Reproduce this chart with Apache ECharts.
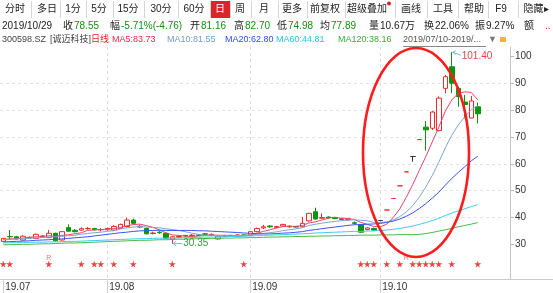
<!DOCTYPE html>
<html><head><meta charset="utf-8">
<script src="https://cdn.jsdelivr.net/npm/echarts@6/dist/echarts.min.js"></script>
<style>html,body{margin:0;padding:0;background:#fff;}#c{width:553px;height:293px;}</style>
</head><body><div id="c"></div>
<script>
// ---------------- data ----------------
const dates = ['2019-07-10','2019-07-11','2019-07-12','2019-07-15','2019-07-16','2019-07-17','2019-07-18','2019-07-19','2019-07-22','2019-07-23','2019-07-24','2019-07-25','2019-07-26','2019-07-29','2019-07-30','2019-07-31',
'2019-08-01','2019-08-02','2019-08-05','2019-08-06','2019-08-07','2019-08-08','2019-08-09','2019-08-12','2019-08-13','2019-08-14','2019-08-15','2019-08-16','2019-08-19','2019-08-20','2019-08-21','2019-08-22','2019-08-23','2019-08-26','2019-08-27','2019-08-28','2019-08-29','2019-08-30',
'2019-09-02','2019-09-03','2019-09-04','2019-09-05','2019-09-06','2019-09-09','2019-09-10','2019-09-11','2019-09-12','2019-09-16','2019-09-17','2019-09-18','2019-09-19','2019-09-20','2019-09-23','2019-09-24','2019-09-25','2019-09-26','2019-09-27','2019-09-30',
'2019-10-08','2019-10-09','2019-10-10','2019-10-11','2019-10-14','2019-10-15','2019-10-16','2019-10-17','2019-10-18','2019-10-21','2019-10-22','2019-10-23','2019-10-24','2019-10-25','2019-10-28','2019-10-29'];
const opens = [31.2,33.0,32.9,31.7,32.5,32.3,33.2,32.6,34.2,31.7,36.3,35.3,35.4,35.9,36.0,35.5,35.5,35.4,36.0,36.7,39.1,36.5,36.0,34.1,34.6,34.2,32.1,32.7,33.4,33.3,33.6,34.0,33.5,32.1,33.1,33.4,33.2,33.6,33.4,34.8,36.2,36.9,36.4,36.9,36.8,36.7,36.6,38.8,42.2,39.8,40.2,40.0,39.3,39.2,38.1,37.3,35.6,36.0,38.94,42.83,47.11,51.82,57.00,62.70,68.97,73.6,73.2,72.3,88.0,96.0,88.0,82.9,77.0,81.16];
const closes = [32.3,32.9,32.1,33.1,32.7,33.8,32.8,34.2,31.4,34.8,35.0,34.8,35.9,36.0,35.5,35.6,36.0,36.7,37.5,39.1,37.9,36.8,34.0,34.3,34.4,32.4,32.9,33.0,33.2,33.5,33.4,33.8,33.8,32.9,33.3,33.2,33.6,33.4,34.8,36.0,36.6,36.6,36.7,37.5,36.6,36.5,37.9,41.6,39.5,40.0,40.0,39.7,39.6,39.4,37.9,34.6,36.2,35.4,38.94,42.83,47.11,51.82,57.00,62.70,68.97,72.6,79.2,84.36,92.3,89.9,84.9,81.99,83.31,78.55];
const lows = [31.0,31.7,31.9,31.5,32.3,32.1,32.6,32.4,31.2,31.5,34.8,34.5,35.1,35.5,35.3,34.9,35.2,35.0,35.8,36.4,37.5,36.2,33.8,33.8,34.0,32.2,30.35,32.4,32.9,33.0,33.2,33.6,33.3,31.9,32.8,33.0,33.0,33.1,33.2,34.6,35.8,36.2,36.1,36.7,36.3,36.3,36.4,38.5,39.3,39.6,39.6,39.4,39.1,38.9,37.4,34.4,35.3,35.0,38.7,42.83,47.11,51.82,57.00,60.8,68.97,64.9,72.5,72.0,86.2,86.2,81.2,76.9,76.9,74.98];
const highs = [32.5,35.4,33.2,33.5,33.0,34.1,33.5,35.4,34.4,35.0,37.5,35.8,36.4,36.5,36.2,36.1,36.3,37.2,37.8,40.0,39.6,37.4,36.3,34.8,35.0,34.4,33.1,33.4,33.6,33.9,33.9,34.3,34.1,33.1,33.6,33.7,33.8,33.8,35.0,36.3,37.3,37.2,36.9,37.7,37.1,36.9,40.3,41.8,43.7,41.6,40.5,40.3,40.0,39.7,38.6,37.6,36.5,36.3,38.94,42.83,47.11,51.82,57.00,62.70,68.97,75.87,79.6,85.0,93.0,101.40,88.6,85.5,85.2,82.70];
const ma5 = [31.9,32.1,32.2,32.4,32.62,32.92,32.9,33.32,32.98,33.4,33.64,34.04,34.38,35.3,35.44,35.56,35.8,35.96,36.26,36.98,37.44,37.6,37.06,36.42,35.48,34.38,33.6,33.4,33.18,33.0,33.2,33.38,33.54,33.48,33.44,33.4,33.36,33.28,33.66,34.2,34.88,35.48,36.14,36.68,36.8,36.78,37.04,38.02,38.42,39.1,39.8,40.16,39.76,39.74,39.32,38.24,37.54,36.7,36.61,37.59,40.1,43.22,47.54,52.29,57.52,62.62,68.09,73.57,79.49,83.67,86.13,86.69,86.48,83.73];
const ma10 = [31.8,31.9,32.1,32.2,32.3,32.5,32.6,32.8,32.9,33.01,33.28,33.47,33.85,34.14,34.42,34.6,34.92,35.17,35.78,36.21,36.5,36.7,36.51,36.34,36.23,35.91,35.6,35.23,34.8,34.24,33.79,33.49,33.47,33.33,33.22,33.3,33.37,33.41,33.57,33.82,34.14,34.42,34.71,35.17,35.5,35.83,36.26,37.08,37.55,37.95,38.29,38.6,38.89,39.08,39.21,39.02,38.85,38.23,38.18,38.46,39.17,40.38,42.12,44.45,47.56,51.36,55.66,60.56,65.89,70.6,74.38,77.39,80.03,81.55];
const ma20 = [31.0,31.1,31.2,31.3,31.4,31.6,31.7,31.8,32.0,32.1,32.3,32.5,32.7,32.9,33.2,33.5,33.8,34.1,34.4,34.61,34.89,35.09,35.18,35.24,35.33,35.26,35.26,35.2,35.29,35.23,35.15,35.1,34.99,34.84,34.73,34.61,34.49,34.32,34.19,34.03,33.97,33.96,34.09,34.25,34.36,34.57,34.82,35.25,35.56,35.89,36.22,36.51,36.8,37.13,37.36,37.43,37.56,37.66,37.87,38.21,38.73,39.49,40.51,41.77,43.39,45.19,47.26,49.4,52.04,54.53,56.78,58.89,61.08,62.80];
const ma60 = [30.6,30.7,30.7,30.8,30.8,30.9,30.9,31.0,31.0,31.1,31.2,31.2,31.3,31.4,31.5,31.6,31.7,31.8,31.9,32.0,32.1,32.2,32.2,32.3,32.4,32.4,32.5,32.5,32.6,32.6,32.7,32.8,32.8,32.9,32.9,33.0,33.0,33.1,33.2,33.3,33.4,33.5,33.6,33.7,33.8,33.9,34.0,34.1,34.3,34.4,34.5,34.6,34.7,34.8,34.9,34.9,35.0,35.1,35.24,35.43,35.68,35.99,36.41,36.90,37.50,38.15,38.92,39.76,40.77,41.69,42.52,43.31,44.10,44.81];
const ma120 = [29.9,30.0,30.0,30.1,30.1,30.2,30.3,30.3,30.4,30.5,30.6,30.6,30.7,30.8,30.9,31.0,31.1,31.2,31.3,31.4,31.5,31.6,31.6,31.7,31.8,31.8,31.9,32.0,32.0,32.1,32.2,32.2,32.3,32.3,32.4,32.4,32.5,32.5,32.6,32.6,32.7,32.8,32.8,32.9,32.9,33.0,33.0,33.1,33.1,33.2,33.2,33.3,33.3,33.4,33.4,33.5,33.5,33.5,33.6,33.6,33.6,33.7,33.7,33.7,33.8,34.1,34.5,35.0,35.5,36.0,36.6,37.1,37.6,38.16];
const starIdx = [0,1,7,12,14,15,17,20,26,37,55,56,57,59,61,63,64,65,66,67,69,73];
const rIdx = [7,62];
const xTickIdx = [0,16,38,58];
const xTickLabels = ['19.07','19.08','19.09','19.10'];
const monthLineIdx = [16,38,58];
const yTicks = [30,40,50,60,70,80,90,100];
const maxMark = {idx:69, value:101.40, text:'101.40'};
const minMark = {idx:26, value:30.35, text:'30.35'};
const padSlots = 4;

// ---------------- style ----------------
const FONT = "'Liberation Sans','Noto Sans CJK SC',sans-serif";
const UP = '#f02a2a', DOWN = '#0a960a', DOJI = '#333333';
const MA_COLORS = ['#e8456a','#7ea6cf','#3656ee','#3ccdef','#4cb84c'];

const cats = dates.concat(Array.from({length:padSlots},(_, k)=>'pad'+k));
const candleData = dates.map((d,i)=>{
  const o=opens[i], c=closes[i], l=lows[i], h=highs[i];
  const item = {value:[o,c,l,h]};
  if (o === c) {
    const col = (h === l) ? UP : DOJI;
    item.itemStyle = {color:col, color0:col, borderColor:col, borderColor0:col, borderColorDoji:col};
  }
  return item;
});
const maList = [ma5, ma10, ma20, ma60, ma120];
const isTick = (i)=> xTickIdx.indexOf(i) >= 0;

const chart = echarts.init(document.getElementById('c'), null, {renderer:'canvas'});
const option = {
  animation:false,
  backgroundColor:'#fff',
  grid:[
    {left:0, width:507, top:29.06, height:242.48},
    {left:0, width:507, top:258, height:12}
  ],
  xAxis:[
    {type:'category', data:cats, gridIndex:0, boundaryGap:true, offset:7.5,
     axisLine:{show:false},
     axisTick:{show:true, alignWithLabel:true, interval:(i)=>isTick(i), length:14, lineStyle:{color:'#cfcfcf'}},
     axisLabel:{show:true, interval:(i)=>isTick(i), formatter:(v,i)=>{const k=xTickIdx.indexOf(i); return k>=0?xTickLabels[k]:'';},
       align:'left', padding:[0,0,0,2], margin:3, fontSize:10, color:'#333', fontFamily:FONT},
     splitLine:{show:false}},
    {type:'category', data:cats, gridIndex:1, boundaryGap:true, show:false}
  ],
  yAxis:[
    {type:'value', gridIndex:0, position:'right', offset:3, min:20, max:110, interval:10,
     axisLine:{show:false},
     axisTick:{show:true, length:4, customValues:yTicks, lineStyle:{color:'#b8b8b8'}},
     axisLabel:{customValues:yTicks, fontSize:10, color:'#333', margin:5, fontFamily:FONT},
     splitLine:{show:true, showMinLine:false, showMaxLine:false, lineStyle:{color:'#e3e3e3', type:[3,3], width:1}}},
    {type:'value', gridIndex:1, min:0, max:1, show:false}
  ],
  series:[
    {type:'candlestick', xAxisIndex:0, yAxisIndex:0, data:candleData, barWidth:5, z:2,
     itemStyle:{color:'#ffffff', color0:DOWN, borderColor:UP, borderColor0:DOWN, borderColorDoji:DOJI, borderWidth:1}},
  ].concat(maList.map((arr,k)=>({type:'line', xAxisIndex:0, yAxisIndex:0, data:arr, showSymbol:false, symbol:'none', z:3, silent:true,
     lineStyle:{color:MA_COLORS[k], width:1}}))).concat([
    {type:'scatter', xAxisIndex:1, yAxisIndex:1, data:starIdx.map(i=>[i,0.5]), symbol:'path://M50,0 L61,35 L98,35 L68,57 L79,91 L50,70 L21,91 L32,57 L2,35 L39,35 Z',
     symbolSize:7, itemStyle:{color:'#ee1111'}, silent:true},
    {type:'scatter', xAxisIndex:1, yAxisIndex:1, data:rIdx.map(i=>[i,1]), symbolSize:0.01, silent:true,
     label:{show:true, formatter:'R', position:'inside', fontSize:7, color:'#e05858', fontFamily:FONT}}
  ])
};
chart.setOption(option);

// ---------------- decorations (header, axes lines, annotations) ----------------
function T(x,y,text,fill,size,align){
  return {type:'text', x:x, y:y, silent:true, z:10,
    style:{text:text, fill:fill, fontSize:size||10, fontFamily:FONT, align:align||'left', verticalAlign:'middle'}};
}
function L(x1,y1,x2,y2,color,dash,w){
  return {type:'line', silent:true, z:1, shape:{x1:x1,y1:y1,x2:x2,y2:y2},
    style:{stroke:color, lineWidth:w||1, lineDash:dash||null}};
}
const g = [];
// toolbar
const buttons = [['分时',15],['多日',47],['1分',73],['5分',99],['15分',128],['30分',161],['60分',194],['日',220],['周',240],['月',264],['更多',292],['前复权',325],['超级叠加',367],['画线',411],['工具',443],['帮助',474],['F9',501],['隐藏▸',536]];
const seps = [31,60,86,113,144,178,210,230,251,278,307,345,395,427,458,488,518];
seps.forEach(x=>g.push(L(x+0.5,1,x+0.5,18,'#d6d6d6')));
g.push({type:'rect', silent:true, z:9, shape:{x:211,y:1,width:19,height:17}, style:{fill:'#d9262b'}});
buttons.forEach(b=>g.push(T(b[1],9.5,b[0], b[0]==='日'?'#fff':'#222',10,'center')));
g.push({type:'circle', silent:true, z:11, shape:{cx:389,cy:3.5,r:2}, style:{fill:'#e02020'}});
// row 2
const G='#149014', K='#222';
[['2019/10/29',2,K],['收',63,K],['78.55',74,G],['幅',110,K],['-5.71%(-4.76)',121,G],['开',190,K],['81.16',201,G],['高',234,K],['82.70',245,G],
 ['低',277,K],['74.98',288,G],['均',320,K],['77.89',331,G],['量',369,K],['10.67万',380,K],['换',424,K],['22.06%',435,K],['振',475,K],['9.27%',486,K],['额',524,K],['..',545,'#e02020']]
 .forEach(r=>g.push(T(r[1],26,r[0],r[2],10)));
// row 3
[['300598.SZ',2,'#444'],['[诚迈科技]',50,'#444'],['日线',91,'#e02020'],['MA5:83.73',112,'#e8284a'],['MA10:81.55',167,'#6f9ccd'],['MA20:62.80',225,'#2b4ff0'],
 ['MA60:44.81',276,'#22c4e8'],['MA120:38.16',338,'#38b038'],['2019/07/10-2019/...',403,'#555'],['▼',488,'#777']]
 .forEach(r=>g.push(T(r[1],40,r[0],r[2],9)));
g.push(L(403,46.5,486,46.5,'#888'));
g.push({type:'rect', silent:true, z:10, shape:{x:500,y:37,width:6,height:5}, style:{fill:'#f3b53a'}});
// axis lines
g.push(L(0,279.5,553,279.5,'#cccccc'));
g.push(L(510.5,47,510.5,279,'#c4c4c4'));
const px = (i,v)=>chart.convertToPixel({gridIndex:0},[i,v]);
monthLineIdx.forEach(i=>{const x=Math.round(px(i,50)[0])+0.5; g.push(L(x,47,x,279,'#dcdcdc',[3,3]));});
// max / min annotations
const pm = px(maxMark.idx, maxMark.value);
g.push({type:'polyline', silent:true, z:12, shape:{points:[[pm[0]+1,pm[1]],[pm[0]+9,pm[1]+3]]}, style:{stroke:'#7fb0d8', lineWidth:1, fill:null}});
g.push({type:'polyline', silent:true, z:12, shape:{points:[[pm[0]+4,pm[1]-1.5],[pm[0]+1,pm[1]],[pm[0]+3.5,pm[1]+2.5]]}, style:{stroke:'#7fb0d8', lineWidth:1, fill:null}});
g.push(T(pm[0]+10,pm[1]+4,maxMark.text,'#e8434f',10));
const pn = px(minMark.idx, minMark.value);
g.push({type:'polyline', silent:true, z:12, shape:{points:[[pn[0]+1,pn[1]],[pn[0]+10,pn[1]]]}, style:{stroke:'#7fb0d8', lineWidth:1, fill:null}});
g.push({type:'polyline', silent:true, z:12, shape:{points:[[pn[0]+4,pn[1]-2.5],[pn[0]+1,pn[1]],[pn[0]+4,pn[1]+2.5]]}, style:{stroke:'#7fb0d8', lineWidth:1, fill:null}});
g.push(T(pn[0]+11,pn[1],minMark.text,'#2f9e3f',10));
// hand-drawn ellipse
g.push({type:'ellipse', silent:true, z:20, shape:{cx:416,cy:152.5,rx:53,ry:104.5}, style:{fill:null, stroke:'#ff1c1c', lineWidth:2.6}});
chart.setOption({graphic:g});
</script></body></html>
